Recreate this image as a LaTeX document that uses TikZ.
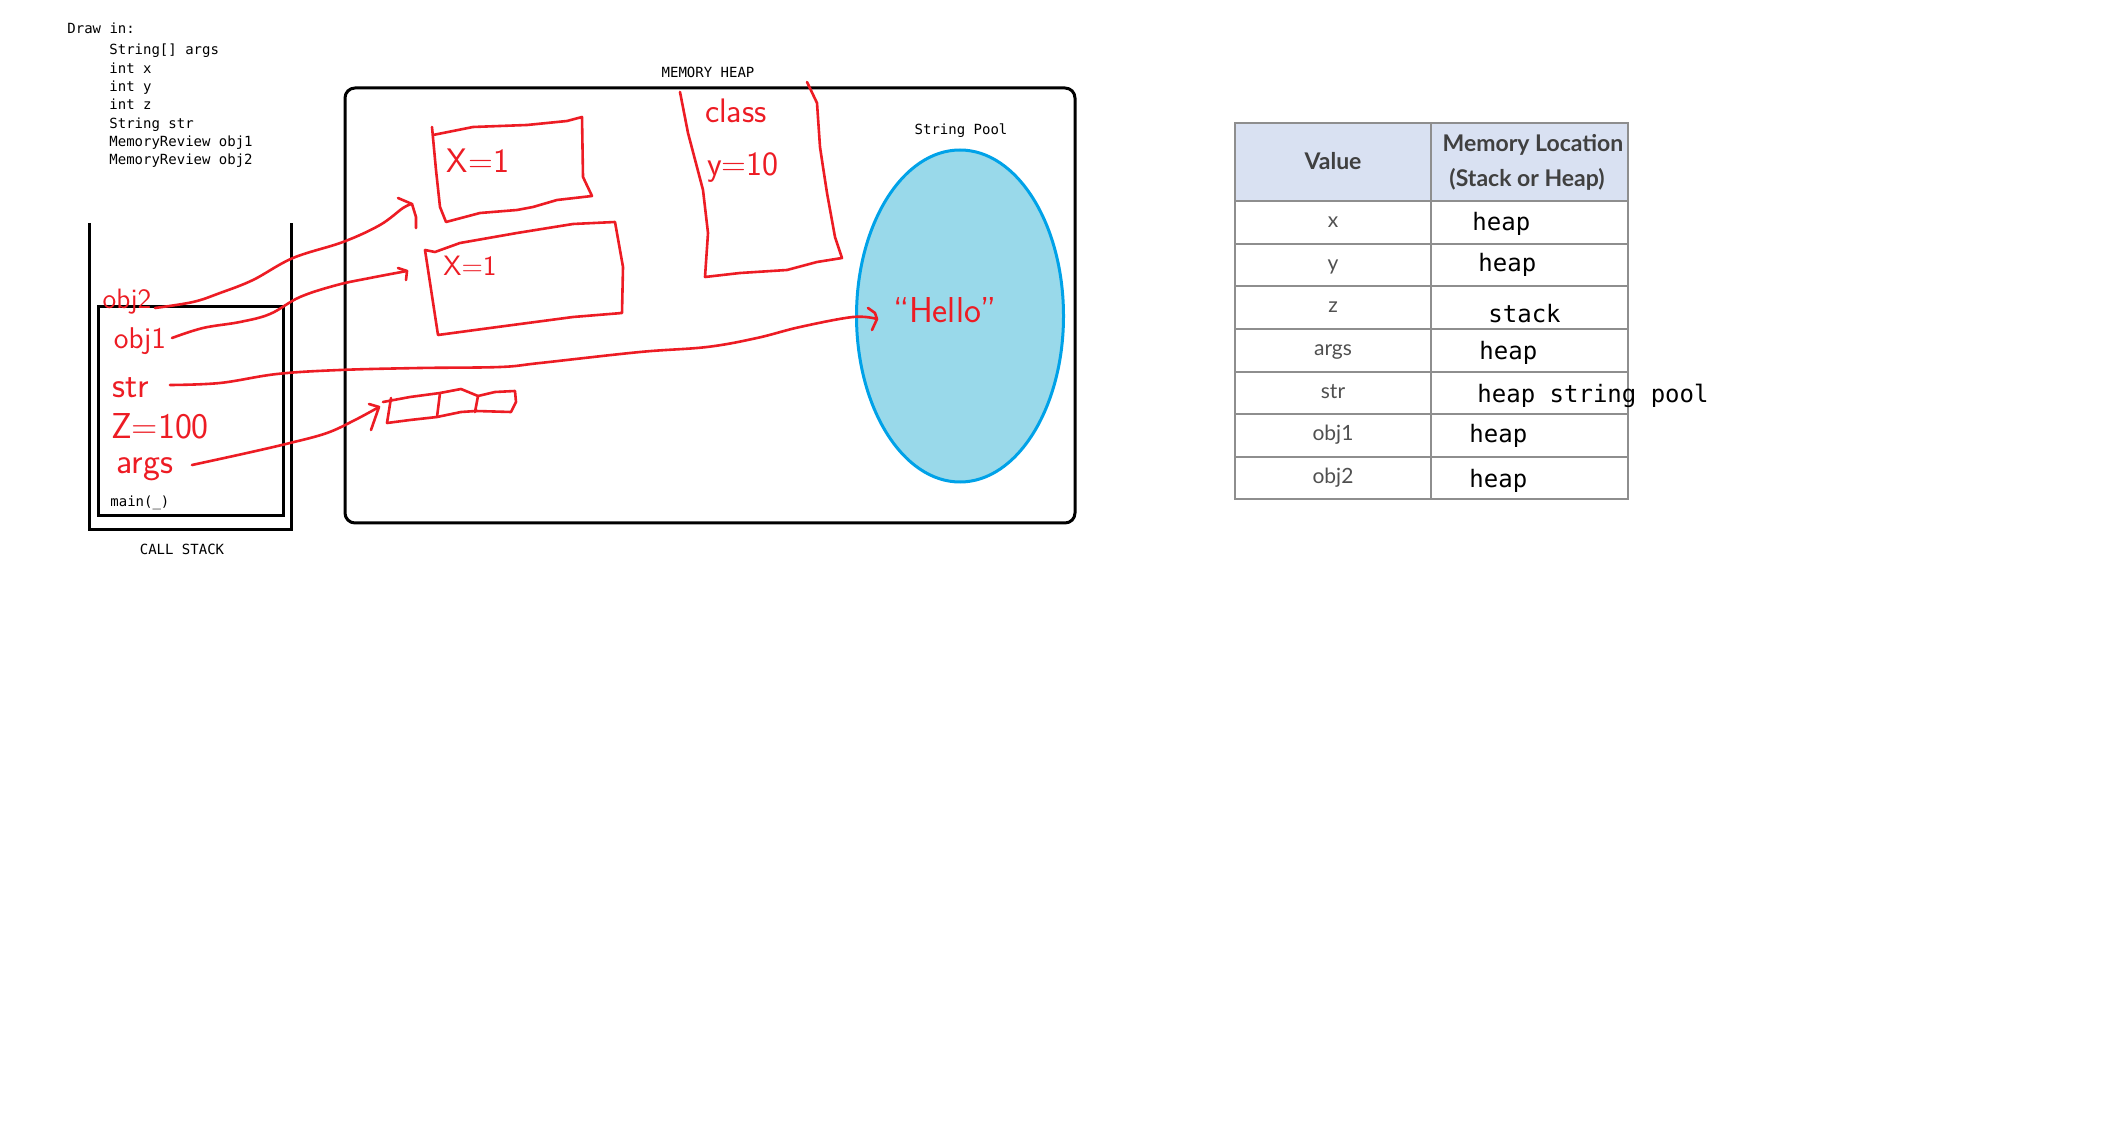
\documentclass[tikz,border=0pt]{standalone}
\usepackage{fontspec}
\newfontfamily\monof{DejaVu Sans Mono}
\newfontfamily\latof{Lato}
\usetikzlibrary{shapes.geometric}
\definecolor{pen}{HTML}{ED1C24}
\definecolor{poolfill}{HTML}{99D9EA}
\definecolor{poolline}{HTML}{00A2E8}
\definecolor{hdrfill}{HTML}{D9E1F2}
\definecolor{gridc}{HTML}{8E8E8E}
\definecolor{valc}{HTML}{505050}
\definecolor{hdrc}{HTML}{404040}
\tikzset{
  codetxt/.style={font=\monof\fontsize{7}{8}\selectfont, inner sep=0pt, anchor=base west},
  smalllbl/.style={font=\monof\fontsize{7}{8}\selectfont, inner sep=0pt},
  hand/.style={text=pen, inner sep=0pt, font=\sffamily\fontsize{#1}{#1}\selectfont},
  penline/.style={draw=pen, line width=1.3pt, line cap=round, line join=round},
  frame/.style={draw=black, line width=1.5pt},
  cellmono/.style={font=\monof\fontsize{12}{14}\selectfont, inner sep=0pt, anchor=base west},
  cellval/.style={font=\latof\fontsize{10.5}{12}\selectfont, text=valc, inner sep=0pt, anchor=base},
  hdr/.style={font=\latof\bfseries\fontsize{11.5}{13}\selectfont, text=hdrc, inner sep=0pt},
}
\begin{document}
\begin{tikzpicture}[x=0.5pt,y=-0.5pt]
\path[use as bounding box, fill=white] (0,0) rectangle (2119,1133);

% ---------- code list ----------
\node[codetxt] (drawin) at (67,34) {Draw in:};
\foreach \t [count=\i] in {String[] args, int x, int y, int z, String str, MemoryReview obj1, MemoryReview obj2}
  \node[codetxt] (code\i) at (109,{55+18.3*(\i-1)}) {\t};

% ---------- call stack ----------
\draw[frame] (89,223) -- (89,530) -- (291,530) -- (291,223);
\draw[frame] (98,307) rectangle (283,516);
\node[smalllbl, anchor=west] (mainf) at (110,503) {main(\_)};
\node[smalllbl] (callstack) at (182,549) {CALL STACK};

% ---------- heap ----------
\draw[frame, rounded corners=5pt] (345,88) rectangle (1075,523);
\node[smalllbl] (memheap) at (708,72) {MEMORY HEAP};
\node[smalllbl] (poollbl) at (961,131) {String Pool};
\node[ellipse, draw=poolline, fill=poolfill, line width=1.5pt, minimum width=103.5pt, minimum height=166pt, inner sep=0pt] (pool) at (960,316) {};

% ---------- table ----------
\fill[hdrfill] (1235,123) rectangle (1628,201);
\foreach \yy in {201,244,286,329,372,414,457}
  \draw[gridc, line width=1pt] (1235,\yy) -- (1628,\yy);
\draw[gridc, line width=1pt] (1431,123) -- (1431,499);
\draw[gridc, line width=1pt] (1235,123) rectangle (1628,499);

\node[hdr] (hval) at (1333,161) {Value};
\node[hdr, anchor=base] (hloc1) at (1533,152) {Memory Location};
\node[hdr, anchor=base] (hloc2) at (1527,187) {(Stack or Heap)};

\node[cellval] (vx) at (1333,228) {x};
\node[cellval] (vy) at (1333,270.5) {y};
\node[cellval] (vz) at (1333,313) {z};
\node[cellval] (vargs) at (1333,356) {args};
\node[cellval] (vstr) at (1333,398.5) {str};
\node[cellval] (vobj1) at (1333,441) {obj1};
\node[cellval] (vobj2) at (1333,483.5) {obj2};

\node[cellmono] (mx) at (1472,231) {heap};
\node[cellmono] (my) at (1478,272) {heap};
\node[cellmono] (mz) at (1488,323) {stack};
\node[cellmono] (margs) at (1479,360) {heap};
\node[cellmono] (mstr) at (1477,403) {heap string pool};
\node[cellmono] (mobj1) at (1469,443) {heap};
\node[cellmono] (mobj2) at (1469,488) {heap};

% ---------- hand-drawn heap objects ----------
% object 1 (upper)
\draw[penline] (432,127) -- (436,170) -- (440,207) -- (446,222) -- (480,213) -- (517,210) -- (533,207) -- (557,200) -- (592,196) -- (583,177) -- (582,117) -- (567,121) -- (527,125) -- (473,127) -- (433,135);
\node[hand=17] (ox1) at (478,161) {X=1};
% object 2 (lower)
\draw[penline] (425,250) -- (438,335) -- (490,328) -- (573,317) -- (622,313) -- (623,267) -- (615,222) -- (573,224) -- (517,233) -- (460,243) -- (435,252) -- (425,250);
\node[hand=14] (ox2) at (470,266) {X=1};
% class object
\draw[penline] (680,92) -- (688,133) -- (703,190) -- (708,233) -- (705,277) -- (740,273) -- (787,270) -- (817,262) -- (842,258) -- (835,237) -- (827,193) -- (823,167) -- (820,147) -- (817,103) -- (807,82);
\node[hand=17] (oclass) at (736,111) {class};
\node[hand=17] (oy) at (743,168) {y=10};
% args array
\draw[penline] (387,423) -- (391,398);
\draw[penline] (383,402) -- (410,397) -- (440,393) -- (461,389) -- (478,396) -- (495,392) -- (515,391) -- (516,402) -- (511,412) -- (476,411) -- (461,412) -- (437,417) -- (410,420) -- (387,423);
\draw[penline] (440,393) -- (437,417);
\draw[penline] (478,396) -- (475,412);
% string in pool
\node[hand=18] (hello) at (945,310) {“Hello”};

% ---------- stack variables ----------
\node[hand=14] (sobj2) at (127,302) {obj2};
\node[hand=15] (sobj1) at (140,341) {obj1};
\node[hand=18] (sstr) at (131,388) {str};
\node[hand=18] (sz) at (160,426) {Z=100};
\node[hand=18] (sargs) at (145,469) {args};

% ---------- references ----------
\coordinate (a2s) at (155,308); \coordinate (a2e) at (412,204);
\draw[penline] plot[smooth, tension=0.6] coordinates {(a2s) (193,302) (220,293) (253,280) (293,258) (343,242) (380,225) (403,208) (a2e)};
\draw[penline] (398,198) -- (a2e) -- (416,217) -- (416,228);

\coordinate (a1s) at (172,338); \coordinate (a1e) at (407,271);
\draw[penline] plot[smooth, tension=0.6] coordinates {(a1s) (203,328) (240,322) (270,314) (300,297) (337,285) (370,278) (a1e)};
\draw[penline] (398,268) -- (a1e) -- (406,280);

\coordinate (ss) at (170,385); \coordinate (se) at (877,319);
\draw[penline] plot[smooth, tension=0.6] coordinates {(ss) (220,383) (277,374) (340,370) (420,368) (500,367) (540,363) (640,352) (707,347) (757,338) (800,327) (853,317) (se)};
\draw[penline] (868,308) -- (875,313) -- (se) -- (872,330);

\coordinate (as) at (192,465); \coordinate (ae) at (379,407);
\draw[penline] plot[smooth, tension=0.6] coordinates {(as) (247,453) (290,443) (327,433) (355,420) (ae)};
\draw[penline] (369,404) -- (ae) -- (371,430);
\end{tikzpicture}
\end{document}
